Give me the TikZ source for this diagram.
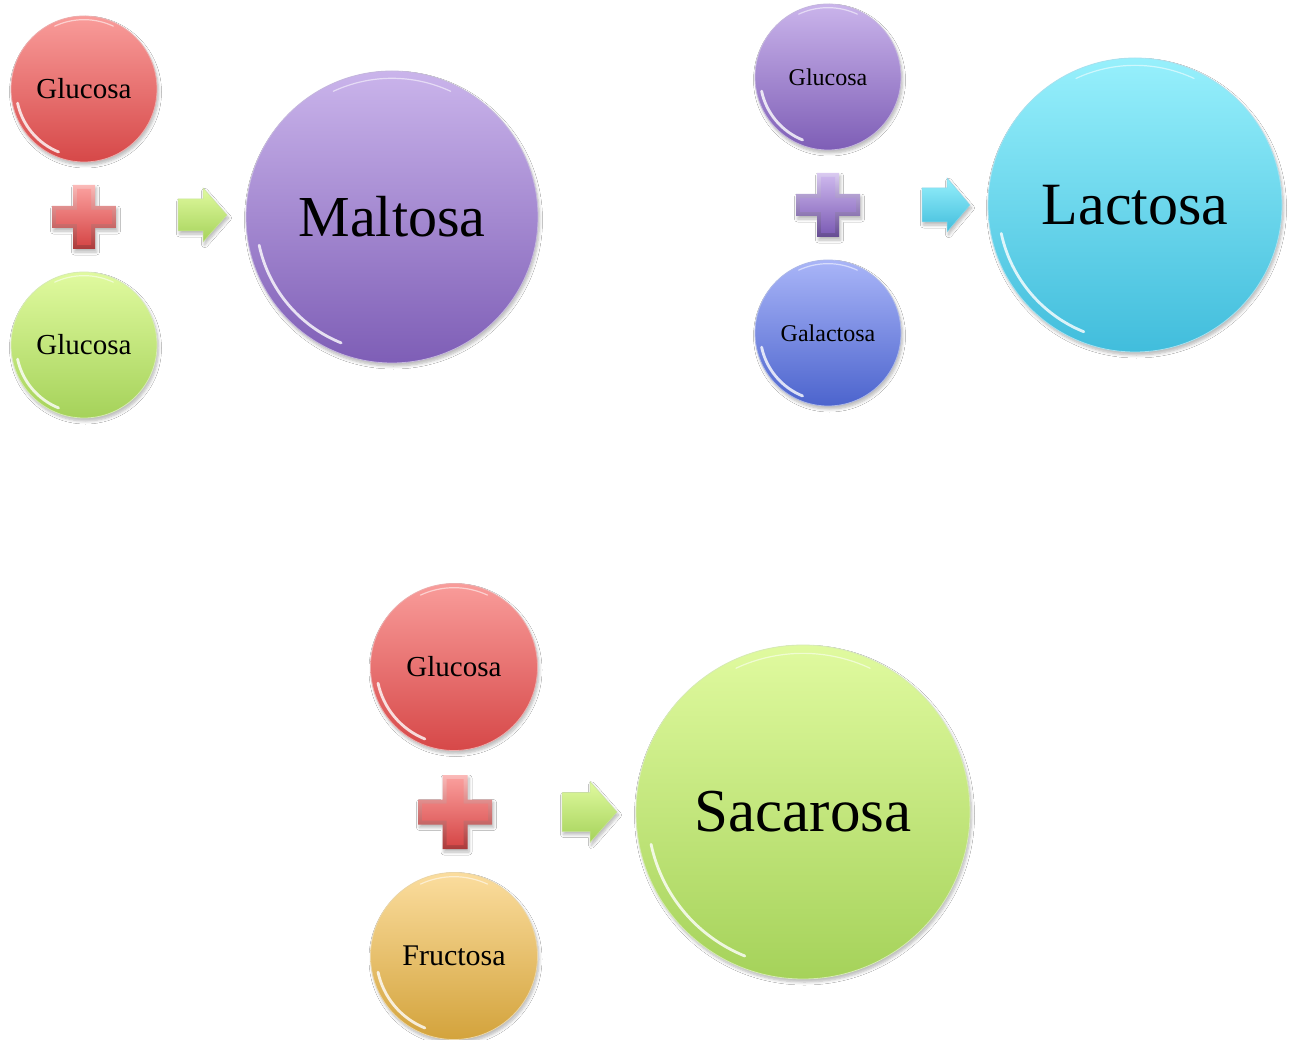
\documentclass[tikz,border=0pt]{standalone}
\usepackage{fontspec}
\setmainfont{Liberation Serif}
\usetikzlibrary{shadows.blur}

% palette
\definecolor{redT}{HTML}{F99C9A}
\definecolor{redB}{HTML}{D64848}
\definecolor{greenT}{HTML}{E0FA9F}
\definecolor{greenB}{HTML}{A5D25A}
\definecolor{purpleT}{HTML}{CAB4EB}
\definecolor{purpleB}{HTML}{7E5EB6}
\definecolor{blueT}{HTML}{A9B5F8}
\definecolor{blueB}{HTML}{4C64CD}
\definecolor{cyanT}{HTML}{97F0FC}
\definecolor{cyanB}{HTML}{41BDDC}
\definecolor{orangeT}{HTML}{FBDD9E}
\definecolor{orangeB}{HTML}{D3A33C}

\tikzset{
  softshadow/.style={blur shadow={shadow xshift=1.5pt, shadow yshift=-3pt,
      shadow blur steps=6, shadow blur radius=3pt, shadow opacity=28}},
  ball/.style n args={3}{circle, inner sep=0pt, minimum size=#1,
      top color=#2, bottom color=#3, draw=#3!45!white, line width=0.8pt,
      softshadow},
  gloss/.style={draw=white, line width=2.8pt, opacity=0.8, line cap=round},
  small/.style={font=\fontsize{29}{32}\selectfont},
  smaller/.style={font=\fontsize{24}{28}\selectfont},
  big/.style={font=\fontsize{58}{64}\selectfont},
}

% white crescent on the lower left rim of a ball and a faint one at the top
% (the y axis points down here, so angles turn clockwise)
\newcommand{\glossrim}[2]{%
  \draw[gloss] (#1.center) ++(168:{0.93*#2}) arc[start angle=168, end angle=112, radius={0.93*#2}];
  \draw[gloss, line width=1.2pt, opacity=0.55] (#1.center) ++(-65:{0.95*#2}) arc[start angle=-65, end angle=-115, radius={0.95*#2}];
}

% bevelled plus sign: cx, cy, half length, half thickness, top colour, bottom colour
\newcommand{\plussign}[6]{%
  \begin{scope}[shift={(#1,#2)}]
    \path[softshadow, top color=#5!70!white, bottom color=#6!80!black]
      (-#4,-#3) -- (#4,-#3) -- (#4,-#4) -- (#3,-#4) -- (#3,#4) -- (#4,#4) --
      (#4,#3) -- (-#4,#3) -- (-#4,#4) -- (-#3,#4) -- (-#3,-#4) -- (-#4,-#4) -- cycle;
    \path[top color=#5, bottom color=#6]
      ({-#4+4},{-#3+4}) -- ({#4-4},{-#3+4}) -- ({#4-4},{-#4+4}) -- ({#3-4},{-#4+4}) --
      ({#3-4},{#4-4}) -- ({#4-4},{#4-4}) -- ({#4-4},{#3-4}) -- ({-#4+4},{#3-4}) --
      ({-#4+4},{#4-4}) -- ({-#3+4},{#4-4}) -- ({-#3+4},{-#4+4}) -- ({-#4+4},{-#4+4}) -- cycle;
  \end{scope}}

% block arrow: x start, head start x, tip x, mid y, body half height, head half height, colours
\newcommand{\blockarrow}[8]{%
  \path[softshadow, top color=#7, bottom color=#8, draw=#8!60!white, line width=0.5pt]
    (#1,{#4-#5}) -- (#2,{#4-#5}) -- (#2,{#4-#6}) -- (#3,#4) -- (#2,{#4+#6}) --
    (#2,{#4+#5}) -- (#1,{#4+#5}) -- cycle;}

\begin{document}
\begin{tikzpicture}[x=1pt,y=-1pt]
  \useasboundingbox[fill=white] (0,0) rectangle (1290,1040);

  % ---------------- Maltosa ----------------
  \node[ball={146pt}{redT}{redB}, small] (malA) at (84,89) {Glucosa};
  \node[ball={146pt}{greenT}{greenB}, small] (malB) at (84,345) {Glucosa};
  \node[ball={292pt}{purpleT}{purpleB}, big] (mal) at (392,217) {Maltosa};
  \glossrim{malA}{73}
  \glossrim{malB}{73}
  \glossrim{mal}{146}
  \plussign{84}{217}{32}{11}{redT}{redB}
  \blockarrow{178}{203}{227}{215}{16}{27}{greenT}{greenB}

  % ---------------- Lactosa ----------------
  \node[ball={146pt}{purpleT}{purpleB}, smaller] (lacA) at (828,77) {Glucosa};
  \node[ball={146pt}{blueT}{blueB}, smaller] (lacB) at (828,333) {Galactosa};
  \node[ball={294pt}{cyanT}{cyanB}, big, font=\fontsize{60}{66}\selectfont] (lac) at (1135,205) {Lactosa};
  \glossrim{lacA}{73}
  \glossrim{lacB}{73}
  \glossrim{lac}{147}
  \plussign{828}{205}{32}{11}{purpleT}{purpleB}
  \blockarrow{922}{947}{970}{205}{17}{27}{cyanT}{cyanB}

  % ---------------- Sacarosa ----------------
  \node[ball={167pt}{redT}{redB}, small] (sacA) at (454,667) {Glucosa};
  \node[ball={167pt}{orangeT}{orangeB}, small, font=\fontsize{30}{34}\selectfont] (sacB) at (454,956) {Fructosa};
  \node[ball={334pt}{greenT}{greenB}, big, font=\fontsize{61}{68}\selectfont] (sac) at (803,812) {Sacarosa};
  \glossrim{sacA}{83.5}
  \glossrim{sacB}{83.5}
  \glossrim{sac}{167}
  \plussign{455}{812}{37}{12.5}{redT}{redB}
  \blockarrow{562}{590}{617}{812}{19.5}{30.5}{greenT}{greenB}
\end{tikzpicture}
\end{document}
